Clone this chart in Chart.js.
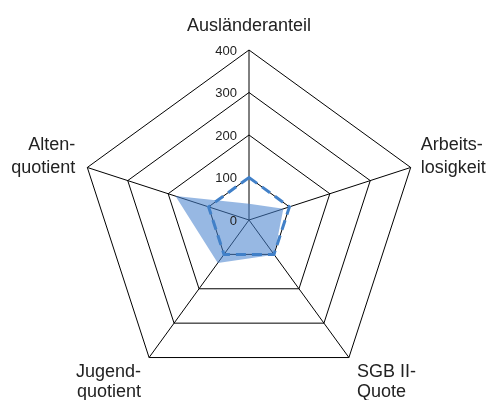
<!DOCTYPE html>
<html>
<head>
<meta charset="utf-8">
<script src="https://cdn.jsdelivr.net/npm/chart.js@4"></script>
<style>
  html, body { margin: 0; padding: 0; background: #fff; }
  #wrap { width: 486px; height: 400px; }
</style>
</head>
<body>
<div id="wrap"><canvas id="myChart" width="486" height="400"></canvas></div>
<script>
const categories = ['Ausländeranteil', ['Arbeits-', 'losigkeit'], ['SGB II-', 'Quote'], ['Jugend-', 'quotient'], ['Alten-', 'quotient']];
const districtValues = [38, 85, 101, 125, 182];
const referenceValues = [100, 100, 100, 100, 100];
const tickValues = [0, 100, 200, 300, 400];

const FONT = '"Liberation Sans", Arial, sans-serif';

// tick labels left of the vertical axis, point labels placed next to the corners
const labelPlugin = {
  id: 'labelPlugin',
  afterDraw(chart) {
    const scale = chart.scales.r;
    const c = chart.ctx;
    c.save();
    c.fillStyle = '#222';
    c.font = '13px ' + FONT;
    c.textAlign = 'right';
    c.textBaseline = 'middle';
    scale.ticks.forEach(t => {
      const y = scale.yCenter - scale.getDistanceFromCenterForValue(t.value);
      c.fillText(String(t.value), scale.xCenter - 12, y + 1);
    });

    c.font = '18px ' + FONT;
    c.textBaseline = 'alphabetic';
    const place = [
      {dx: 0, dy: -19, lh: 0, align: 'center'},
      {dx: 10, dy: -17, lh: 23, align: 'left'},
      {dx: 8, dy: 19, lh: 20, align: 'left'},
      {dx: -8, dy: 19, lh: 20, align: 'right'},
      {dx: -12, dy: -17, lh: 23, align: 'right'}
    ];
    chart.data.labels.forEach((lab, i) => {
      const v = scale.getPointPosition(i, scale.drawingArea);
      const lines = Array.isArray(lab) ? lab : [lab];
      const p = place[i];
      c.textAlign = p.align;
      lines.forEach((ln, k) => {
        c.fillText(ln, v.x + p.dx, v.y + p.dy + k * p.lh);
      });
    });
    c.restore();
  }
};

const ctx = document.getElementById('myChart').getContext('2d');
new Chart(ctx, {
  type: 'radar',
  data: {
    labels: categories,
    datasets: [{
      label: 'Stadtteil',
      data: districtValues,
      order: 2,
      backgroundColor: 'rgba(70, 128, 205, 0.56)',
      borderWidth: 0,
      borderColor: 'rgba(0,0,0,0)',
      pointRadius: 0,
      fill: true
    }, {
      label: 'Stadt',
      data: referenceValues,
      order: 1,
      borderColor: '#4180c8',
      borderWidth: 3,
      borderDash: [10, 6],
      backgroundColor: 'rgba(0,0,0,0)',
      pointRadius: 0,
      fill: false
    }]
  },
  options: {
    responsive: false,
    animation: false,
    layout: { padding: { top: 50, bottom: 10, left: 78, right: 66 } },
    plugins: { legend: { display: false }, tooltip: { enabled: false } },
    scales: {
      r: {
        min: tickValues[0],
        max: tickValues[tickValues.length - 1],
        ticks: { stepSize: 100, display: false },
        grid: { color: '#000', lineWidth: 1 },
        angleLines: { color: '#000', lineWidth: 1 },
        pointLabels: { display: false }
      }
    }
  },
  plugins: [labelPlugin]
});
</script>
</body>
</html>
